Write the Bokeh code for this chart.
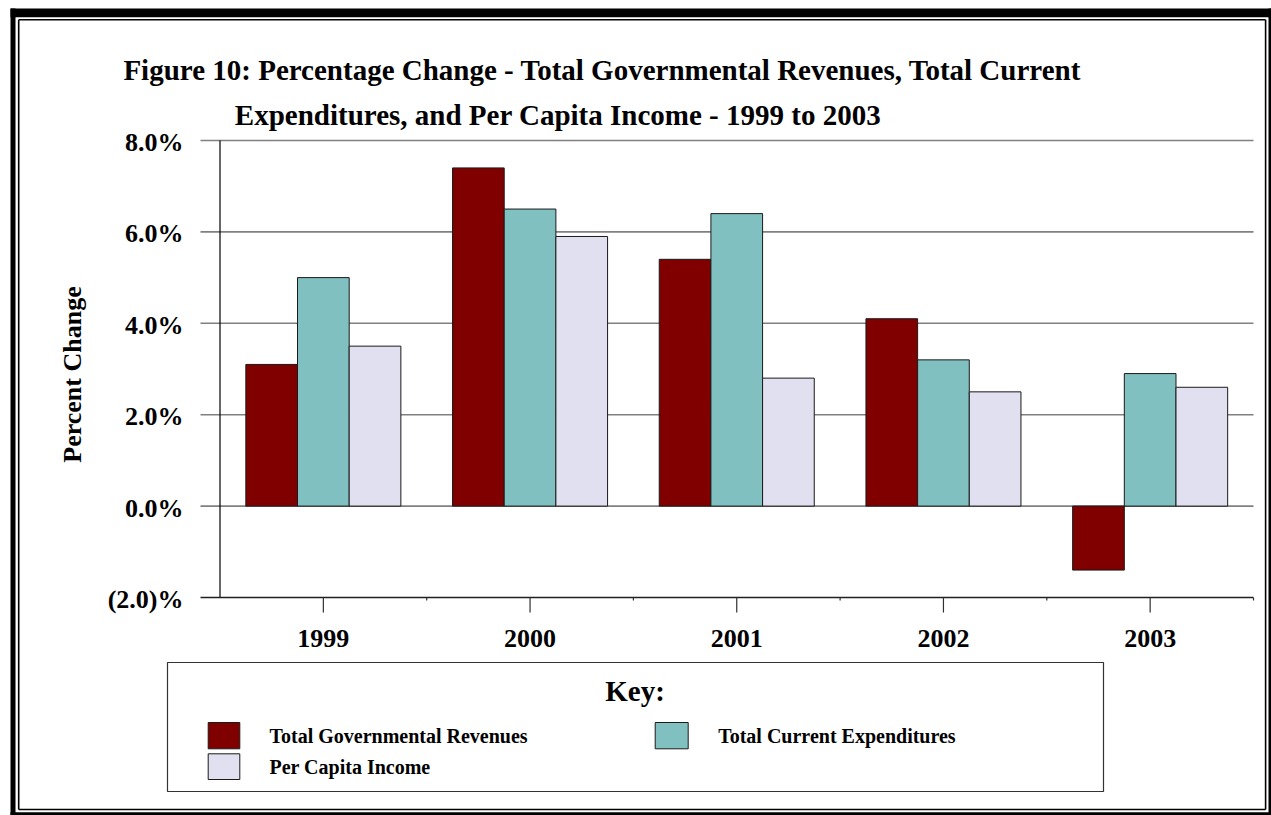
import math
from bokeh.plotting import figure
from bokeh.models import Range1d
from bokeh.core.properties import value
from bokeh.embed import file_html
from bokeh.resources import INLINE

# ---------------- data ----------------
years = ["1999", "2000", "2001", "2002", "2003"]
revenues = [3.1, 7.4, 5.4, 4.1, -1.4]
expenditures = [5.0, 6.5, 6.4, 3.2, 2.9]
per_capita_income = [3.5, 5.9, 2.8, 2.5, 2.6]
series_names = ["Total Governmental Revenues", "Total Current Expenditures", "Per Capita Income"]
series_colors = ["#800000", "#80C0C0", "#E0E0F0"]
y_tick_values = [-2, 0, 2, 4, 6, 8]
y_tick_labels = ["(2.0)%", "0.0%", "2.0%", "4.0%", "6.0%", "8.0%"]
title_lines = ["Figure 10:  Percentage Change - Total Governmental Revenues, Total Current",
               "Expenditures, and Per Capita Income - 1999 to 2003"]
y_axis_title = "Percent Change"
legend_title = "Key:"

# ---------------- layout (canvas pixels) ----------------
W, H = 1271, 815
PX0, PX5 = 219.5, 1253.0      # pixel of x=0 and x=5 (category axis)
PY_TOP, PY_BOT = 140.0, 597.0  # pixel of y=8 and y=-2
YMAX, YMIN = 8.0, -2.0
NCAT = len(years)
ux = (PX5 - PX0) / NCAT
uy = (PY_BOT - PY_TOP) / (YMAX - YMIN)
x_start = -PX0 / ux
x_end = NCAT + (W - PX5) / ux
y_end = YMAX + PY_TOP / uy
y_start = YMIN - (H - PY_BOT) / uy


def X(px):
    return x_start + px / ux


def Y(py):
    return y_end - py / uy


p = figure(width=W, height=H, output_backend="svg", toolbar_location=None,
           x_range=Range1d(x_start, x_end), y_range=Range1d(y_start, y_end),
           x_axis_location=None, y_axis_location=None, min_border=0, title=None)
p.grid.visible = False
p.outline_line_color = None
p.background_fill_color = "white"
p.border_fill_color = "white"

FONT = value("Liberation Serif")

# ---------------- outer frame ----------------
p.quad(left=[X(10), X(10), X(1268), X(10)], right=[X(15), X(W), X(W), X(W)],
       top=[Y(8), Y(8), Y(8), Y(811.7)], bottom=[Y(H), Y(16.7), Y(H), Y(H)],
       fill_color="black", line_color=None)
p.segment(x0=[X(18.2), X(18.2), X(1265.1), X(18.2)],
          y0=[Y(19.3), Y(19.3), Y(19.3), Y(809)],
          x1=[X(18.2), X(1265.1), X(1265.1), X(1265.1)],
          y1=[Y(809), Y(19.3), Y(809), Y(809)],
          line_color="black", line_width=1.6)

# ---------------- gridlines ----------------
grid_vals = [v for v in y_tick_values if v > YMIN]
p.segment(x0=[X(200)] * len(grid_vals), y0=grid_vals,
          x1=[NCAT] * len(grid_vals), y1=grid_vals,
          line_color="#808080", line_width=1.6)

# ---------------- bars ----------------
cat_x = [i + 0.5 for i in range(NCAT)]
bar_w = 0.25
for k, (vals, col) in enumerate(zip([revenues, expenditures, per_capita_income], series_colors)):
    xs = [c + (k - 1) * bar_w for c in cat_x]
    p.vbar(x=xs, width=bar_w, bottom=0, top=vals, fill_color=col,
           line_color="#1a1a1a", line_width=1)

# ---------------- axes ----------------
p.segment(x0=[0], y0=[YMIN], x1=[0], y1=[YMAX], line_color="black", line_width=1.2)
p.segment(x0=[X(200)], y0=[YMIN], x1=[NCAT], y1=[YMIN], line_color="#202020", line_width=1.4)
p.segment(x0=cat_x, y0=[YMIN] * NCAT, x1=cat_x, y1=[Y(PY_BOT + 15)] * NCAT,
          line_color="#303030", line_width=1.2)
minor = [i + 1 for i in range(NCAT)]
p.segment(x0=minor, y0=[YMIN] * NCAT, x1=minor, y1=[Y(PY_BOT + 3)] * NCAT,
          line_color="#303030", line_width=1.2)

# tick labels
p.text(x=[X(183)] * len(y_tick_values), y=y_tick_values, text=y_tick_labels,
       text_font=FONT, text_font_style="bold", text_font_size="26px",
       text_align="right", text_baseline="middle", y_offset=2, text_color="black")
p.text(x=cat_x, y=[Y(637.5)] * NCAT, text=years,
       text_font=FONT, text_font_style="bold", text_font_size="26px",
       text_align="center", text_baseline="middle", text_color="black")

# axis title
p.text(x=[X(72)], y=[Y(374)], text=[y_axis_title], angle=math.pi / 2,
       text_font=FONT, text_font_style="bold", text_font_size="26px",
       text_align="center", text_baseline="middle", text_color="black")

# ---------------- title ----------------
p.text(x=[X(605.5), X(557.5)], y=[Y(69), Y(114)], text=title_lines,
       text_font=FONT, text_font_style="bold", text_font_size="29px",
       text_align="center", text_baseline="alphabetic", text_color="black")

# ---------------- key ----------------
p.quad(left=[X(167)], right=[X(1103)], top=[Y(662)], bottom=[Y(791)],
       fill_color="white", line_color="#333333", line_width=1.2)
p.text(x=[X(634.5)], y=[Y(690)], text=[legend_title],
       text_font=FONT, text_font_style="bold", text_font_size="29px",
       text_align="center", text_baseline="middle", text_color="black")
sw_left = [X(207.7), X(654.7), X(207.7)]
sw_right = [X(239.3), X(687.7), X(239.3)]
sw_top = [Y(722), Y(722), Y(753.3)]
sw_bot = [Y(748.3), Y(748.3), Y(779)]
p.quad(left=sw_left, right=sw_right, top=sw_top, bottom=sw_bot,
       fill_color=series_colors, line_color="#1a1a1a", line_width=1)
p.text(x=[X(269), X(717.7), X(269)], y=[Y(735.5), Y(735.5), Y(766)], text=series_names,
       text_font=FONT, text_font_style="bold", text_font_size="20px",
       text_align="left", text_baseline="middle", text_color="black")

open("out.html", "w").write(file_html(p, INLINE))
